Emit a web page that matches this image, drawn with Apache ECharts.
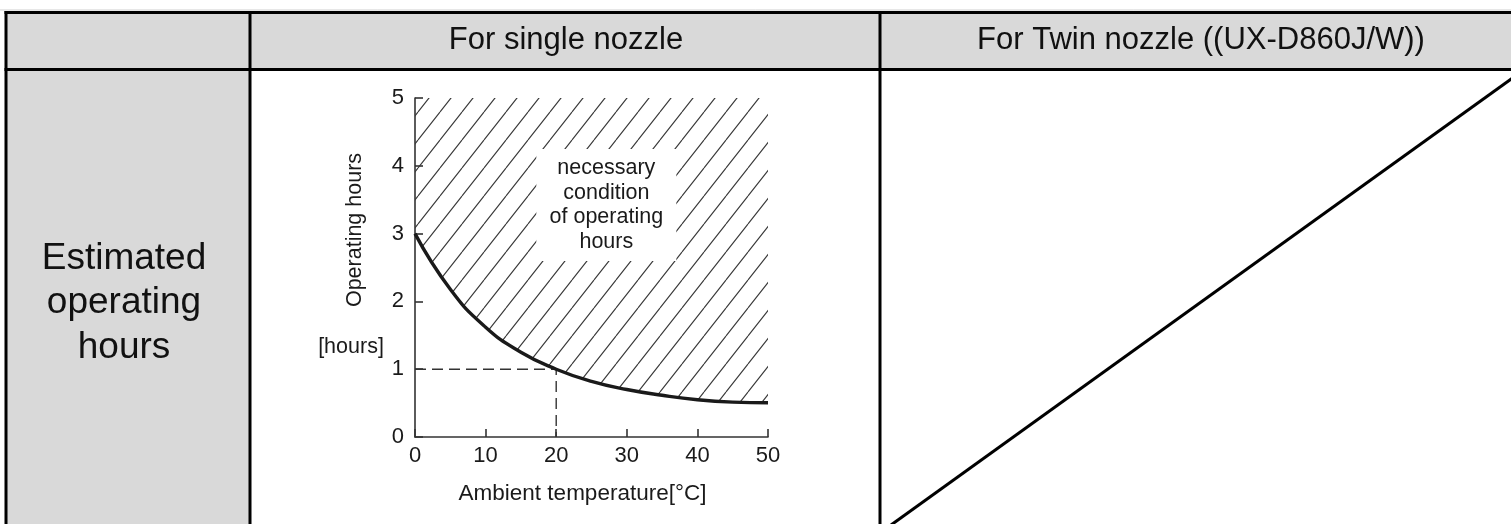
<!DOCTYPE html>
<html><head><meta charset="utf-8">
<script src="https://cdn.jsdelivr.net/npm/echarts@6/dist/echarts.min.js"></script>
<style>html,body{margin:0;padding:0;background:#fff}#c{width:1511px;height:524px}</style>
</head><body><div id="c"></div>
<script>
// ---- data ----
const temperature = [0, 5, 10, 15, 20, 25, 30, 35, 40, 45, 50];
const hours = [3.0, 2.18, 1.62, 1.25, 1.0, 0.82, 0.7, 0.615, 0.55, 0.515, 0.505];
const refPoint = [20, 1];
const xRange = [0, 50, 10];
const yRange = [0, 5, 1];
const headers = ['For single nozzle', 'For Twin nozzle ((UX-D860J/W))'];
const rowLabel = 'Estimated\noperating\nhours';
const yName = 'Operating hours';
const yUnit = '[hours]';
const xName = 'Ambient temperature[°C]';
const note = 'necessary\ncondition\nof operating\nhours';
const notePos = [27.1, 3.42];

const FF = "'Liberation Sans', Arial, Helvetica, sans-serif";

function hatch() {
  const w = 22, h = 28;
  const c = document.createElement('canvas');
  c.width = w; c.height = h;
  const g = c.getContext('2d');
  g.strokeStyle = '#3a3a3a';
  g.lineWidth = 1.15;
  g.beginPath();
  for (const o of [-1, 0, 1]) { g.moveTo(o * w, h); g.lineTo(o * w + w, 0); }
  g.stroke();
  return c;
}

const chart = echarts.init(document.getElementById('c'), null, { renderer: 'canvas' });

const black = '#000';
const lw = 3;
const graphic = [
  { type: 'rect', shape: { x: 6, y: 12, width: 1520, height: 57 }, style: { fill: '#d9d9d9' }, z: -10 },
  { type: 'rect', shape: { x: 6, y: 69, width: 244, height: 460 }, style: { fill: '#d9d9d9' }, z: -10 },
  { type: 'line', shape: { x1: 0, y1: 10, x2: 1511, y2: 10 }, style: { stroke: '#cfcfcf', lineWidth: 1 } },
  { type: 'line', shape: { x1: 4.5, y1: 12.5, x2: 1511, y2: 12.5 }, style: { stroke: black, lineWidth: lw } },
  { type: 'line', shape: { x1: 4.5, y1: 69.5, x2: 1511, y2: 69.5 }, style: { stroke: black, lineWidth: lw } },
  { type: 'line', shape: { x1: 6, y1: 11, x2: 6, y2: 524 }, style: { stroke: black, lineWidth: lw } },
  { type: 'line', shape: { x1: 250, y1: 11, x2: 250, y2: 524 }, style: { stroke: black, lineWidth: lw } },
  { type: 'line', shape: { x1: 880, y1: 11, x2: 880, y2: 524 }, style: { stroke: black, lineWidth: lw } },
  { type: 'line', shape: { x1: 891, y1: 525, x2: 1525, y2: 69 }, style: { stroke: black, lineWidth: 3 } },
  { type: 'text', x: 566, y: 40, style: { text: headers[0], fontSize: 31, fontFamily: FF, fill: '#111', align: 'center', verticalAlign: 'middle' } },
  { type: 'text', x: 1201, y: 40, style: { text: headers[1], fontSize: 31, fontFamily: FF, fill: '#111', align: 'center', verticalAlign: 'middle' } },
  { type: 'text', x: 124, y: 303, style: { text: rowLabel, fontSize: 37, lineHeight: 44.5, fontFamily: FF, fill: '#111', align: 'center', verticalAlign: 'middle' } },
  { type: 'text', x: 355, y: 230, rotation: Math.PI / 2, style: { text: yName, fontSize: 21.5, fontFamily: FF, fill: '#1a1a1a', align: 'center', verticalAlign: 'middle' } },
  { type: 'text', x: 351, y: 347, style: { text: yUnit, fontSize: 21.5, fontFamily: FF, fill: '#1a1a1a', align: 'center', verticalAlign: 'middle' } }
];

const axisCommon = {
  type: 'value',
  axisLine: { show: true, lineStyle: { color: '#333', width: 1.6 } },
  axisTick: { show: true, inside: true, length: 8, lineStyle: { color: '#333', width: 1.6 } },
  splitLine: { show: false },
  axisLabel: { color: '#1a1a1a', fontSize: 22, fontFamily: FF }
};

chart.setOption({
  animation: false,
  backgroundColor: '#fff',
  grid: { left: 415, top: 98, width: 353, height: 339, containLabel: false },
  graphic: graphic,
  xAxis: Object.assign({}, axisCommon, {
    min: xRange[0], max: xRange[1], interval: xRange[2],
    axisLabel: Object.assign({}, axisCommon.axisLabel, { margin: 8 }),
    name: xName, nameLocation: 'middle', nameGap: 45,
    nameTextStyle: { color: '#1a1a1a', fontSize: 22.5, fontFamily: FF, padding: [0, 18, 0, 0] }
  }),
  yAxis: Object.assign({}, axisCommon, {
    min: yRange[0], max: yRange[1], interval: yRange[2],
    axisLabel: Object.assign({}, axisCommon.axisLabel, { margin: 11 })
  }),
  series: [
    {
      type: 'line',
      data: temperature.map((t, i) => [t, hours[i]]),
      smooth: 0.5,
      symbol: 'none',
      z: 3,
      lineStyle: { color: '#1a1a1a', width: 3.4 },
      areaStyle: { origin: 'end', opacity: 1, color: { image: hatch(), repeat: 'repeat' } },
      markPoint: {
        silent: true,
        symbol: 'rect',
        symbolSize: [140, 112],
        itemStyle: { color: '#fff' },
        label: { show: true, position: 'inside', formatter: note, color: '#1a1a1a', fontSize: 21.5, lineHeight: 24.7, fontFamily: FF },
        data: [{ coord: notePos }]
      }
    },
    {
      type: 'line',
      data: [[xRange[0], refPoint[1]], [refPoint[0], refPoint[1]], [refPoint[0], yRange[0]]],
      symbol: 'none',
      z: 2,
      lineStyle: { type: [11, 6], color: '#333', width: 1.4 }
    }
  ]
});
</script>
</body></html>
